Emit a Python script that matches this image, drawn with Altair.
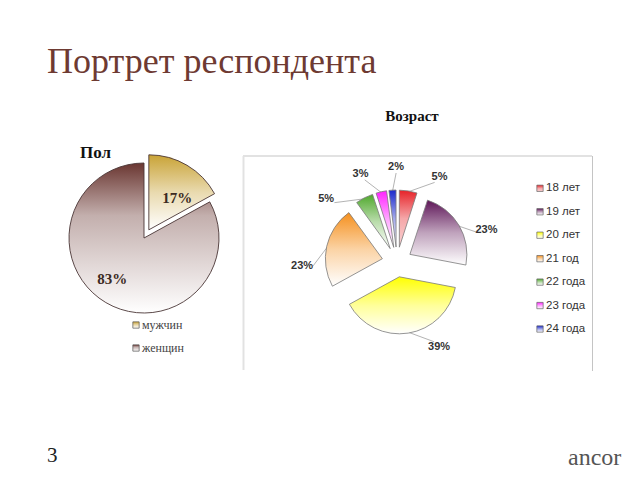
import math
import altair as alt
import pandas as pd

# ---------------- data ----------------
sex_labels = ["мужчин", "женщин"]
sex_values = [17, 83]
sex_colors = ["#c9a336", "#6a3631"]

age_labels = ["18 лет", "19 лет", "20 лет", "21 год", "22 года", "23 года", "24 года"]
age_values = [5, 23, 39, 23, 5, 3, 2]
age_colors = ["#e62228", "#5e1658", "#ffff00", "#f5901e", "#4fa82c", "#ff22ff", "#1a28cc"]

# ---------------- layout ----------------
L_CX, L_CY, L_R = 144, 238, 75
L_EXPLODE = [9.5, 0]
L_LABEL_R = 52
L_NUDGE = [9, 7]

R_CX, R_CY, R_R = 397, 262, 57
R_EXPLODE = 15
R_LABEL_R = 95
R_NUDGE = [17.6, 10.9, -17.3, -15.1, -21.2, -10, 3]


def mix(c, t):
    """blend colour c with white, t=0 -> c, t=1 -> white"""
    c = c.lstrip("#")
    r, g, b = (int(c[k:k + 2], 16) for k in (0, 2, 4))
    r, g, b = (round(v + (255 - v) * t) for v in (r, g, b))
    return f"#{r:02x}{g:02x}{b:02x}"


def grad(c, end_t=1.0, mid=None):
    stops = [{"offset": 0, "color": c}]
    if mid is not None:
        stops.append({"offset": mid[0], "color": mix(c, mid[1])})
    stops.append({"offset": 1, "color": mix(c, end_t)})
    return {"gradient": "linear", "x1": 0, "y1": 0, "x2": 0, "y2": 1, "stops": stops}


def fill_cond(grads):
    return {"condition": [{"test": f"datum.i === {k}", "value": g} for k, g in enumerate(grads)],
            "value": "#cccccc"}


def pie_frame(labels, values, cx, cy, explode, nudges, label_r, ell=(11, 6), r=None):
    rows = []
    cum = 0.0
    total = float(sum(values))
    for k, (lab, v) in enumerate(zip(labels, values)):
        start = cum / total * 100
        cum += v
        end = cum / total * 100
        mid = math.radians((start + end) / 2 * 3.6)
        ex = explode[k] if isinstance(explode, list) else explode
        pcx = cx + ex * math.sin(mid)
        pcy = cy - ex * math.cos(mid)
        la = mid + math.radians(nudges[k])
        lx = cx + label_r * math.sin(la)
        ly = cy - label_r * math.cos(la)
        row = dict(i=k, label=lab, value=v, pct=f"{v}%", start=start, end=end,
                   pcx=pcx, pcy=pcy, lx=lx, ly=ly)
        if r is not None:
            row["sx"] = pcx + (r - 1) * math.sin(mid)
            row["sy"] = pcy - (r - 1) * math.cos(mid)
            row["ex"] = lx - ell[0] * math.sin(la)
            row["ey"] = ly + ell[1] * math.cos(la)
        rows.append(row)
    return pd.DataFrame(rows)


sex_df = pie_frame(sex_labels, sex_values, L_CX, L_CY, L_EXPLODE, L_NUDGE, L_LABEL_R)
age_df = pie_frame(age_labels, age_values, R_CX, R_CY, R_EXPLODE, R_NUDGE, R_LABEL_R, r=R_R)

sex_leg = pd.DataFrame({"i": range(len(sex_labels)), "label": sex_labels})
sex_leg["y"] = 325 + sex_leg["i"] * 23
age_leg = pd.DataFrame({"i": range(len(age_labels)), "label": age_labels})
age_leg["y"] = 188.3 + age_leg["i"] * 23.45

sex_grads = [grad(sex_colors[0], 1.0, (0.5, 0.6)), grad(sex_colors[1], 1.0, (0.35, 0.6))]
age_grads = [grad(c, 0.8 if k == 0 else 1.0, (0.5, 0.6)) for k, c in enumerate(age_colors)]

theta_scale = alt.Scale(domain=[0, 100], range=[0, 2 * math.pi])
px = dict(scale=None, axis=None)

# ---------------- pies ----------------
sex_pie = alt.Chart(sex_df).mark_arc(radius=L_R, stroke="#4a3535", strokeWidth=0.9).encode(
    theta=alt.Theta("start:Q", scale=theta_scale, stack=None),
    theta2="end:Q",
    x=alt.X("pcx:Q", **px),
    y=alt.Y("pcy:Q", **px),
    fill=fill_cond(sex_grads),
)
sex_text = alt.Chart(sex_df).mark_text(
    font="Liberation Serif", fontSize=15, fontWeight="bold", color="#3b2a22",
    align="center", baseline="middle"
).encode(x=alt.X("lx:Q", **px), y=alt.Y("ly:Q", **px), text="pct:N")

age_pie = alt.Chart(age_df).mark_arc(radius=R_R, stroke="#7a7a7a", strokeWidth=0.8).encode(
    theta=alt.Theta("start:Q", scale=theta_scale, stack=None),
    theta2="end:Q",
    x=alt.X("pcx:Q", **px),
    y=alt.Y("pcy:Q", **px),
    fill=fill_cond(age_grads),
)
age_lines = alt.Chart(age_df).mark_rule(color="#a0a0a0", strokeWidth=0.8).encode(
    x=alt.X("sx:Q", **px), y=alt.Y("sy:Q", **px), x2="ex:Q", y2="ey:Q"
)
age_text = alt.Chart(age_df).mark_text(
    font="Liberation Sans", fontSize=11, fontWeight="bold", color="#333333",
    align="center", baseline="middle"
).encode(x=alt.X("lx:Q", **px), y=alt.Y("ly:Q", **px), text="pct:N")

# ---------------- legends ----------------
sex_leg_sq = alt.Chart(sex_leg).mark_square(size=40, stroke="#555555", strokeWidth=0.7, opacity=1).encode(
    x=alt.value(136), y=alt.Y("y:Q", **px), fill=fill_cond(sex_grads)
)
sex_leg_tx = alt.Chart(sex_leg).mark_text(
    font="Liberation Serif", fontSize=12, color="#444444", align="left", baseline="middle"
).encode(x=alt.value(142), y=alt.Y("y:Q", **px), text="label:N")

age_leg_sq = alt.Chart(age_leg).mark_square(size=40, stroke="#666666", strokeWidth=0.7, opacity=1).encode(
    x=alt.value(540), y=alt.Y("y:Q", **px), fill=fill_cond(age_grads)
)
age_leg_tx = alt.Chart(age_leg).mark_text(
    font="Liberation Sans", fontSize=11.5, color="#333333", align="left", baseline="middle"
).encode(x=alt.value(546), y=alt.Y("y:Q", **px), text="label:N")

# ---------------- frame around the right chart ----------------
one = alt.Data(values=[{}])
frame_left = alt.Chart(one).mark_rule(color="#e2e2e2", strokeWidth=2).encode(
    x=alt.value(243.5), y=alt.value(156), y2=alt.value(370))
frame_top = alt.Chart(one).mark_rule(color="#e2e2e2", strokeWidth=2).encode(
    x=alt.value(243), x2=alt.value(592), y=alt.value(156))
frame_right = alt.Chart(one).mark_rule(color="#c4c4c4", strokeWidth=1).encode(
    x=alt.value(592.5), y=alt.value(156), y2=alt.value(371))

# ---------------- slide texts ----------------
def label(text, x, y, **kw):
    return alt.Chart(one).mark_text(text=text, **kw).encode(x=alt.value(x), y=alt.value(y))

title = label("Портрет респондента", 47, 73, font="Liberation Serif", fontSize=36,
              color="#6e3a32", align="left", baseline="alphabetic")
age_title = label("Возраст", 412, 121, font="Liberation Serif", fontSize=15, fontWeight="bold",
                  color="#111111", align="center", baseline="alphabetic")
sex_title = label("Пол", 80, 158, font="Liberation Serif", fontSize=17, fontWeight="bold",
                  color="#111111", align="left", baseline="alphabetic")
page_no = label("3", 47, 462, font="Liberation Serif", fontSize=21, color="#222222",
                align="left", baseline="alphabetic")
logo = label("ancor", 568, 465, font="Liberation Serif", fontSize=24, color="#555555",
             align="left", baseline="alphabetic")

chart = alt.layer(
    frame_left, frame_top, frame_right,
    sex_pie, sex_text, sex_leg_sq, sex_leg_tx,
    age_lines, age_pie, age_text, age_leg_sq, age_leg_tx,
    title, age_title, sex_title, page_no, logo,
).properties(
    width=640, height=480, autosize="none", padding=0, background="white"
).configure_view(stroke=None)

chart.save("out.html", embed_options={"renderer": "svg", "actions": False})
